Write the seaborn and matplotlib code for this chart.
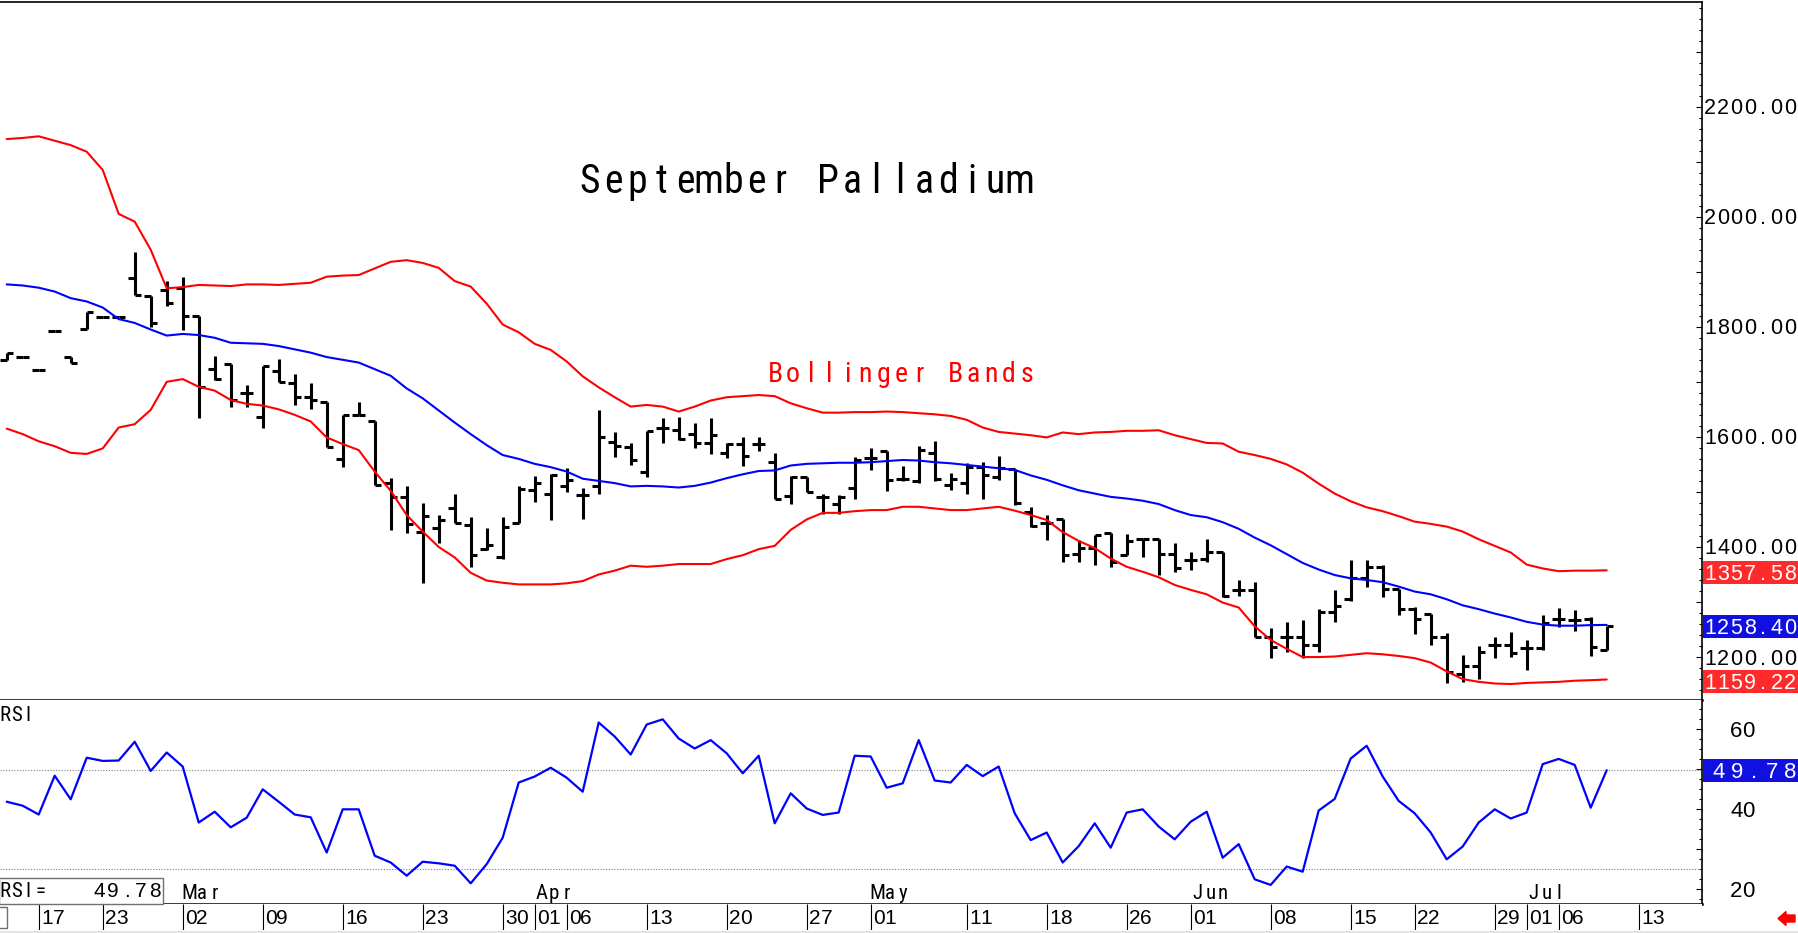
"""
September Palladium: daily bars with Bollinger Bands and RSI panel.
"""

import matplotlib
matplotlib.use("Agg")

import matplotlib.pyplot as plt
import numpy as np
import pandas as pd
import seaborn as sns
from matplotlib import font_manager
from matplotlib.patches import Polygon, Rectangle
from matplotlib.ticker import MultipleLocator

# === data (one value per trading day, Feb 12 .. Jul 9) ===
open_ = [1740, 1746, 1721, 1792, 1745, 1796, 1818, 1818, 1888, 1856,
         1867, 1870, 1820, 1724, 1732, 1680, 1636, 1720, 1698, 1673,
         1663, 1559, 1640, 1629, 1517, 1490, 1427, 1435, 1471, 1440,
         1397, 1381, 1444, 1504, 1496, 1510, 1494, 1510, 1591, 1582,
         1537, 1616, 1613, 1606, 1588, 1571, 1587, 1587, 1555, 1493,
         1527, 1491, 1478, 1507, 1561, 1575, 1523, 1519, 1571, 1513,
         1517, 1545, 1528, 1541, 1464, 1444, 1450, 1388, 1398, 1426,
         1385, 1414, 1414, 1387, 1376, 1379, 1391, 1322, 1322, 1237,
         1237, 1237, 1222, 1281, 1305, 1343, 1363, 1323, 1287, 1278,
         1236, 1170, 1184, 1222, 1222, 1216, 1216, 1270, 1268, 1270,
         1212]
high = [1753, 1746, 1721, 1792, 1745, 1826, 1818, 1818, 1936, 1856,
        1883, 1890, 1820, 1747, 1732, 1695, 1728, 1741, 1714, 1697,
        1663, 1640, 1663, 1629, 1525, 1510, 1480, 1458, 1497, 1455,
        1435, 1455, 1511, 1529, 1533, 1543, 1508, 1649, 1608, 1588,
        1611, 1634, 1637, 1625, 1634, 1588, 1599, 1599, 1570, 1529,
        1527, 1496, 1494, 1563, 1579, 1575, 1547, 1583, 1593, 1534,
        1553, 1555, 1565, 1541, 1473, 1458, 1450, 1413, 1422, 1426,
        1424, 1415, 1414, 1407, 1391, 1414, 1391, 1340, 1337, 1252,
        1264, 1268, 1288, 1322, 1376, 1377, 1367, 1323, 1291, 1278,
        1243, 1204, 1220, 1236, 1246, 1231, 1276, 1290, 1285, 1273,
        1256]
low = [1740, 1746, 1721, 1792, 1734, 1796, 1818, 1818, 1858, 1800,
       1838, 1794, 1635, 1703, 1655, 1654, 1617, 1700, 1658, 1651,
       1581, 1546, 1640, 1512, 1430, 1425, 1334, 1407, 1443, 1363,
       1395, 1379, 1443, 1482, 1449, 1500, 1450, 1496, 1563, 1549,
       1528, 1588, 1594, 1579, 1569, 1561, 1547, 1575, 1488, 1478,
       1499, 1460, 1460, 1487, 1540, 1502, 1520, 1517, 1519, 1504,
       1496, 1487, 1522, 1476, 1437, 1413, 1373, 1373, 1367, 1364,
       1385, 1382, 1349, 1355, 1358, 1373, 1310, 1311, 1237, 1198,
       1210, 1198, 1210, 1264, 1302, 1327, 1310, 1276, 1242, 1222,
       1153, 1155, 1161, 1198, 1201, 1176, 1213, 1254, 1248, 1202,
       1212]
close = [1753, 1746, 1721, 1792, 1734, 1826, 1818, 1818, 1858, 1806,
         1844, 1820, 1691, 1705, 1667, 1680, 1728, 1700, 1673, 1667,
         1581, 1640, 1640, 1512, 1490, 1442, 1457, 1449, 1444, 1385,
         1403, 1437, 1505, 1516, 1531, 1522, 1494, 1599, 1583, 1558,
         1611, 1616, 1597, 1588, 1603, 1587, 1565, 1587, 1488, 1528,
         1499, 1491, 1491, 1558, 1561, 1522, 1523, 1576, 1523, 1523,
         1546, 1531, 1543, 1479, 1438, 1444, 1385, 1399, 1422, 1373,
         1411, 1414, 1387, 1361, 1376, 1390, 1311, 1322, 1237, 1219,
         1237, 1222, 1281, 1293, 1343, 1363, 1323, 1287, 1270, 1236,
         1172, 1184, 1210, 1222, 1208, 1216, 1261, 1270, 1268, 1218,
         1256]

upper_band = [2141, 2143, 2146, 2138, 2130, 2118, 2085, 2005, 1991, 1940,
              1870, 1872, 1876, 1875, 1874, 1877, 1877, 1876, 1878, 1880,
              1891, 1893, 1894, 1906, 1918, 1921, 1916, 1907, 1883, 1873,
              1842, 1804, 1790, 1769, 1758, 1737, 1710, 1690, 1672, 1655,
              1658, 1655, 1646, 1655, 1666, 1672, 1674, 1676, 1674, 1661,
              1652, 1644, 1644, 1645, 1645, 1646, 1645, 1643, 1641, 1638,
              1631, 1617, 1609, 1606, 1603, 1599, 1608, 1605, 1608, 1609,
              1611, 1611, 1612, 1603, 1596, 1589, 1588, 1573, 1567, 1560,
              1550, 1535, 1515, 1497, 1483, 1472, 1465, 1456, 1446, 1442,
              1437, 1428, 1414, 1402, 1390, 1368, 1361, 1356, 1357, 1357,
              1357.58]
middle_band = [1877, 1875, 1871, 1864, 1852, 1846, 1835, 1814, 1807, 1795,
               1784, 1787, 1785, 1780, 1771, 1770, 1769, 1765, 1759, 1753,
               1745, 1740, 1735, 1723, 1711, 1688, 1670, 1648, 1626, 1605,
               1585, 1567, 1560, 1551, 1545, 1537, 1524, 1520, 1516, 1510,
               1511, 1510, 1508, 1511, 1517, 1525, 1532, 1538, 1539, 1548,
               1551, 1552, 1553, 1553, 1554, 1556, 1558, 1557, 1554, 1552,
               1549, 1546, 1543, 1540, 1530, 1522, 1512, 1503, 1497, 1491,
               1488, 1484, 1478, 1467, 1458, 1454, 1445, 1433, 1417, 1403,
               1387, 1371, 1359, 1349, 1343, 1340, 1336, 1328, 1319, 1314,
               1305, 1294, 1287, 1279, 1272, 1264, 1259, 1257, 1257, 1258,
               1258.40]
lower_band = [1615, 1605, 1592, 1583, 1571, 1569, 1579, 1617, 1623, 1649,
              1700, 1705, 1691, 1684, 1667, 1660, 1657, 1650, 1640, 1628,
              1599, 1587, 1576, 1537, 1502, 1458, 1428, 1400, 1381, 1353,
              1339, 1335, 1332, 1332, 1332, 1334, 1338, 1350, 1357, 1366,
              1364, 1366, 1369, 1369, 1369, 1378, 1385, 1396, 1402, 1431,
              1450, 1462, 1462, 1465, 1467, 1467, 1473, 1473, 1470, 1467,
              1467, 1470, 1473, 1466, 1458, 1449, 1427, 1411, 1398, 1379,
              1364, 1355, 1345, 1331, 1322, 1314, 1299, 1290, 1256, 1231,
              1215, 1200, 1200, 1201, 1204, 1207, 1205, 1202, 1198, 1190,
              1174, 1160, 1155, 1152, 1151, 1153, 1154, 1155, 1157, 1158,
              1159.22]

rsi = [41.9, 40.9, 38.7, 48.4, 42.5, 52.9, 52.1, 52.2, 56.9, 49.6,
       54.2, 50.7, 36.7, 39.4, 35.5, 37.9, 45.0, 41.9, 38.7, 38.0,
       29.2, 40.0, 40.0, 28.4, 26.7, 23.4, 26.9, 26.5, 25.9, 21.5,
       26.3, 32.9, 46.7, 48.2, 50.4, 47.9, 44.4, 61.7, 58.2, 53.7,
       61.2, 62.5, 57.7, 55.2, 57.3, 54.0, 49.0, 53.4, 36.5, 44.0,
       40.2, 38.6, 39.2, 53.4, 53.2, 45.4, 46.5, 57.3, 47.2, 46.7,
       51.1, 48.3, 50.7, 39.0, 32.3, 34.2, 26.7, 30.8, 36.5, 30.4,
       39.2, 40.0, 35.7, 32.5, 36.9, 39.4, 27.9, 31.3, 22.5, 21.1,
       25.7, 24.4, 39.7, 42.6, 52.7, 55.9, 48.2, 42.1, 39.0, 34.2,
       27.5, 30.7, 36.7, 40.0, 37.7, 39.2, 51.3, 52.6, 51.1, 40.4,
       49.78]

# trading calendar (exchange holidays removed) and the dated ticks on the axis
holidays = ["2026-02-16", "2026-04-03", "2026-05-25", "2026-06-19", "2026-07-03"]
tick_dates = ["2026-02-17", "2026-02-23", "2026-03-02", "2026-03-09", "2026-03-16",
              "2026-03-23", "2026-03-30", "2026-04-01", "2026-04-06", "2026-04-13",
              "2026-04-20", "2026-04-27", "2026-05-01", "2026-05-11", "2026-05-18",
              "2026-05-26", "2026-06-01", "2026-06-08", "2026-06-15", "2026-06-22",
              "2026-06-29", "2026-07-01", "2026-07-06", "2026-07-13"]
month_labels = ["Mar", "Apr", "May", "Jun", "Jul"]
month_dates = ["2026-03-02", "2026-04-01", "2026-05-01", "2026-06-01", "2026-07-01"]

price_labels = [1200, 1400, 1600, 1800, 2000, 2200]
rsi_labels = [20, 40, 60]
rsi_level = 25
last_rsi = 49.78

W, H = 1798, 933
RED, BLUE = "#ff0000", "#0000ff"


def pick_font(names):
    for n in names:
        try:
            font_manager.findfont(n, fallback_to_default=False)
            return n
        except ValueError:
            continue
    return "DejaVu Sans"


def main() -> None:
    sns.set_style("white")
    sans = pick_font(["Liberation Sans", "Arimo", "DejaVu Sans"])
    narrow = pick_font(["Liberation Sans Narrow", "Roboto Condensed", sans])
    plt.rcParams["font.family"] = [sans, "DejaVu Sans"]

    days = pd.bdate_range("2026-02-12", "2026-07-13")
    days = days[~days.isin(pd.to_datetime(holidays))]
    x = np.arange(len(close))

    fig = plt.figure(figsize=(W / 100, H / 100), dpi=100)
    fig.patch.set_facecolor("white")

    def rect(x0, y0, x1, y1):
        return [x0 / W, 1 - y1 / H, (x1 - x0) / W, (y1 - y0) / H]

    ax = fig.add_axes(rect(0, 2, 1702, 700))
    ax_rsi = fig.add_axes(rect(0, 700, 1702, 904))
    ax_date = fig.add_axes(rect(0, 904, 1702, 930))

    feb17 = days.get_loc(pd.Timestamp("2026-02-17"))
    xlim = (feb17 - 38.7 / 16, feb17 + (1702 - 38.7) / 16)
    for a in (ax, ax_rsi, ax_date):
        a.set_xlim(*xlim)
        a.set_facecolor("white")
        a.tick_params(axis="x", which="both", bottom=False, labelbottom=False)
        for s in a.spines.values():
            s.set_visible(False)

    # === 1. price bars + Bollinger Bands ===
    ax.set_ylim(1122, 2390)
    ax.vlines(x, low, high, color="black", lw=2.2)
    ax.hlines(open_, x - 0.42, x, color="black", lw=2.2)
    ax.hlines(close, x, x + 0.42, color="black", lw=2.2)
    for band, col in [(upper_band, RED), (lower_band, RED), (middle_band, BLUE)]:
        sns.lineplot(x=x, y=band, ax=ax, color=col, lw=1.5,
                     estimator=None, sort=False, legend=False)
    ax.set_xlabel("")
    ax.set_ylabel("")

    ax.spines["top"].set_visible(True)
    ax.spines["top"].set_linewidth(1.2)
    ax.spines["bottom"].set_visible(True)
    ax.spines["bottom"].set_linewidth(1.8)
    ax.spines["right"].set_visible(True)
    ax.spines["right"].set_linewidth(1.2)
    for s in ax.spines.values():
        s.set_color("black")
    ax.yaxis.set_major_locator(MultipleLocator(100))
    ax.yaxis.set_minor_locator(MultipleLocator(20))
    ax.tick_params(axis="y", which="both", direction="in", left=False, right=True,
                   labelleft=False, labelright=False, color="black", width=0.8)
    ax.tick_params(axis="y", which="major", length=4)
    ax.tick_params(axis="y", which="minor", length=2)

    # === 2. RSI panel ===
    ax_rsi.set_ylim(16.33, 67.33)
    ax_rsi.axhline(last_rsi, color="#808080", lw=0.8, ls=(0, (1, 1.5)))
    ax_rsi.axhline(rsi_level, color="#6a6aff", lw=0.8, ls=(0, (1, 1.5)))
    sns.lineplot(x=x, y=rsi, ax=ax_rsi, color=BLUE, lw=1.6,
                 estimator=None, sort=False, legend=False)
    ax_rsi.set_xlabel("")
    ax_rsi.set_ylabel("")
    ax_rsi.spines["bottom"].set_visible(True)
    ax_rsi.spines["bottom"].set_linewidth(1.8)
    ax_rsi.spines["right"].set_visible(True)
    ax_rsi.spines["right"].set_linewidth(1.2)
    for s in ax_rsi.spines.values():
        s.set_color("black")
    ax_rsi.yaxis.set_major_locator(MultipleLocator(10))
    ax_rsi.yaxis.set_minor_locator(MultipleLocator(2.5))
    ax_rsi.tick_params(axis="y", which="both", direction="in", left=False, right=True,
                       labelleft=False, labelright=False, color="black", width=0.8)
    ax_rsi.tick_params(axis="y", which="major", length=4)
    ax_rsi.tick_params(axis="y", which="minor", length=2)

    ax_date.set_ylim(0, 1)
    ax_date.tick_params(axis="y", which="both", left=False, right=False,
                        labelleft=False, labelright=False)

    # === 3. text, drawn with wide fixed letter spacing like the original ===
    def spaced(cx, base, s, adv, size, color="black", family=None):
        for k, ch in enumerate(s):
            if ch == " ":
                continue
            fig.text((cx + k * adv) / W, 1 - base / H, ch, ha="center", va="baseline",
                     fontsize=size, color=color, family=family or sans)

    def ypx(a, v):
        return H - a.transData.transform((0, v))[1]

    def xpx(v):
        return ax.transData.transform((v, 0))[0]

    def fig_box(x0, y0, x1, y1, face, edge=None, lw=0):
        fig.add_artist(Rectangle((x0 / W, 1 - y1 / H), (x1 - x0) / W, (y1 - y0) / H,
                                 transform=fig.transFigure, facecolor=face,
                                 edgecolor=edge or face, lw=lw))

    spaced(589.3, 193.3, "September Palladium", 23.9, 28.5, family=narrow)
    spaced(775, 381.7, "Bollinger Bands", 18.0, 20, color=RED, family=narrow)

    for v in price_labels:
        yc = ypx(ax, v)
        spaced(1710, yc + 7.5, f"{v:.2f}", 13.3, 15.5)
    for v, col in [(upper_band[-1], "#ff2a2a"), (middle_band[-1], "#1010e0"),
                   (lower_band[-1], "#ff2a2a")]:
        yc = ypx(ax, v) + 2
        fig_box(1703, yc - 11.5, 1798, yc + 11.5, col)
        spaced(1710, yc + 7.5, f"{v:.2f}", 13.3, 15.5, color="white")

    for v in rsi_labels:
        yc = ypx(ax_rsi, v)
        spaced(1736.5, yc + 8, str(v), 12, 16)
    yc = ypx(ax_rsi, last_rsi)
    fig_box(1703, yc - 11.7, 1798, yc + 11.7, "#1010e0")
    spaced(1719, yc + 7.5, f"{last_rsi:.2f}", 17.7, 16, color="white")

    spaced(5, 720.7, "RSI", 11.5, 15, family=narrow)
    fig_box(-1, 878, 163, 904, "white", edge="#707070", lw=1)
    spaced(5, 897.3, "RSI=", 11.7, 15, family=narrow)
    spaced(99.5, 897.3, f"{last_rsi:.2f}", 13.75, 15)

    for lab, d in zip(month_labels, month_dates):
        sep = xpx(days.get_loc(pd.Timestamp(d)))
        spaced(sep + 7, 899, lab, 12.5, 15, family=narrow)

    tick_pos = [days.get_loc(pd.Timestamp(d)) for d in tick_dates]
    ax_date.vlines(tick_pos, 0, 1, color="black", lw=0.8)
    for d, p in zip(tick_dates, tick_pos):
        spaced(xpx(p) + 8.5, 924, pd.Timestamp(d).strftime("%d"), 11, 15)

    # small leftover box at the far left of the date row, bottom strip, red arrow
    fig_box(-2, 906.7, 6.7, 928.3, "white", edge="#707070", lw=1)
    fig_box(0, 930.5, W, H, "#e4e4e4")
    arrow = [(1778, 918.5), (1786, 911.5), (1786, 915), (1795, 915),
             (1795, 922), (1786, 922), (1786, 925.5)]
    fig.add_artist(Polygon([(px / W, 1 - py / H) for px, py in arrow], closed=True,
                           transform=fig.transFigure, facecolor="#ff0000",
                           edgecolor="#ff0000"))

    plt.savefig("out.png", dpi=100, facecolor="white")


if __name__ == "__main__":
    main()
